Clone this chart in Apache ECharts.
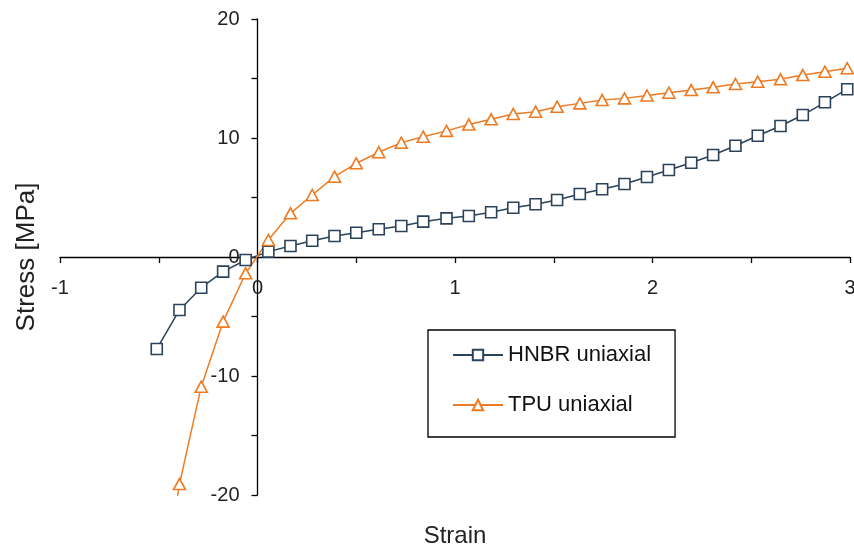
<!DOCTYPE html>
<html>
<head>
<meta charset="utf-8">
<script src="https://cdn.jsdelivr.net/npm/echarts@6/dist/echarts.min.js"></script>
<style>
html,body{margin:0;padding:0;background:#fff;}
#chart{width:854px;height:548px;}
</style>
</head>
<body>
<div id="chart"></div>
<script>
const seriesNames = ['HNBR uniaxial', 'TPU uniaxial'];
const strain = [-0.51, -0.395, -0.285, -0.174, -0.06, 0.055, 0.167, 0.277, 0.39, 0.50, 0.614, 0.728, 0.839, 0.957, 1.07, 1.183, 1.295, 1.408, 1.517, 1.632, 1.745, 1.858, 1.972, 2.083, 2.196, 2.307, 2.42, 2.533, 2.648, 2.761, 2.873, 2.986];
const hnbrStress = [-7.73, -4.45, -2.58, -1.23, -0.25, 0.45, 0.92, 1.37, 1.76, 2.04, 2.33, 2.61, 2.97, 3.25, 3.45, 3.76, 4.14, 4.43, 4.79, 5.29, 5.69, 6.13, 6.72, 7.31, 7.92, 8.57, 9.35, 10.19, 11.01, 11.93, 13.0, 14.1];
const tpuStress = [-31, -19.08, -10.9, -5.43, -1.37, 1.43, 3.67, 5.21, 6.75, 7.87, 8.80, 9.61, 10.11, 10.6, 11.13, 11.57, 12.02, 12.21, 12.63, 12.91, 13.19, 13.33, 13.57, 13.81, 14.03, 14.26, 14.54, 14.73, 14.93, 15.29, 15.57, 15.86];
const xTickLabels = ['-1', '0', '1', '2', '3'];
const yTickLabels = ['-20', '-10', '0', '10', '20'];
const axisTitles = { x: 'Strain', y: 'Stress [MPa]' };

const BLUE = '#2a425a';
const ORANGE = '#ee7b22';
const FONT = 'Liberation Sans, Arial, sans-serif';

const GRID = { left: 60, right: 4, top: 19, bottom: 53 };
const W = 854, H = 548;
const xMin = -1, xMax = 3, yMin = -20, yMax = 20;

const pairs = (xs, ys) => xs.map((x, i) => [x, ys[i]]);

// Axes cross at zero: shift each axis from the grid edge to the other axis's zero via its scale.
const plotW = W - GRID.left - GRID.right;
const plotH = H - GRID.top - GRID.bottom;
const xAxisShift = -plotH * (0 - yMin) / (yMax - yMin);
const yAxisShift = -plotW * (0 - xMin) / (xMax - xMin);

const chart = echarts.init(document.getElementById('chart'), null, { renderer: 'canvas' });
chart.setOption({
  animation: false,
  backgroundColor: '#ffffff',
  grid: Object.assign({ containLabel: false, outerBoundsMode: 'none' }, GRID),
  legend: {
    orient: 'vertical',
    left: 428,
    top: 330,
    padding: [14, 24, 21, 24],
    itemGap: 28,
    itemWidth: 50,
    itemHeight: 13,
    borderColor: '#000',
    borderWidth: 1.3,
    backgroundColor: '#fff',
    textStyle: { fontFamily: FONT, fontSize: 22, color: '#111', lineHeight: 22 },
    data: seriesNames
  },
  xAxis: {
    type: 'value',
    position: 'bottom',
    offset: xAxisShift,
    min: xMin, max: xMax, interval: 0.5,
    name: axisTitles.x,
    nameLocation: 'middle',
    nameGap: 267,
    nameTextStyle: { fontFamily: FONT, fontSize: 24, color: '#222' },
    axisLine: { onZero: false, lineStyle: { color: '#000', width: 1.3 } },
    axisTick: { show: true, length: 6, lineStyle: { color: '#000', width: 1.3 } },
    axisLabel: {
      margin: 21,
      fontFamily: FONT, fontSize: 20, color: '#222',
      formatter: v => { const s = String(Math.round(v)); return (Math.abs(v - Math.round(v)) < 1e-9 && xTickLabels.includes(s)) ? s : ''; }
    },
    splitLine: { show: false }
  },
  yAxis: {
    type: 'value',
    position: 'left',
    offset: yAxisShift,
    min: yMin, max: yMax, interval: 5,
    name: axisTitles.y,
    nameLocation: 'middle',
    nameGap: 218,
    nameTextStyle: { fontFamily: FONT, fontSize: 26, color: '#222' },
    axisLine: { onZero: false, lineStyle: { color: '#000', width: 1.3 } },
    axisTick: { show: true, length: 6, lineStyle: { color: '#000', width: 1.3 } },
    axisLabel: {
      margin: 18,
      fontFamily: FONT, fontSize: 20, color: '#222',
      formatter: v => { const s = String(v); return yTickLabels.includes(s) ? s : ''; }
    },
    splitLine: { show: false }
  },
  series: [
    {
      name: seriesNames[0],
      type: 'line',
      data: pairs(strain, hnbrStress),
      symbol: 'rect',
      symbolSize: 11,
      showAllSymbol: true,
      clip: true,
      lineStyle: { color: BLUE, width: 1.5 },
      itemStyle: { color: '#fff', borderColor: BLUE, borderWidth: 1.6 }
    },
    {
      name: seriesNames[1],
      type: 'line',
      data: pairs(strain, tpuStress),
      symbol: 'triangle',
      symbolSize: [12, 11],
      showAllSymbol: true,
      clip: true,
      lineStyle: { color: ORANGE, width: 1.5 },
      itemStyle: { color: '#fff', borderColor: ORANGE, borderWidth: 1.6 }
    }
  ]
});
</script>
</body>
</html>
